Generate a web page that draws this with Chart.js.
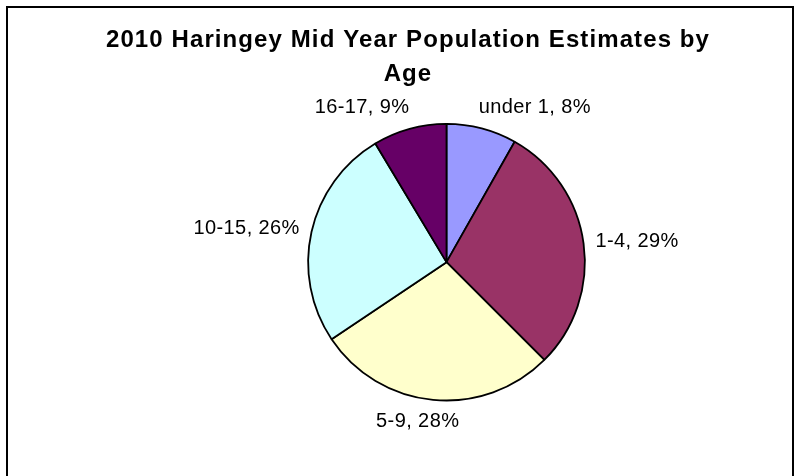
<!DOCTYPE html>
<html>
<head>
<meta charset="utf-8">
<script src="https://cdn.jsdelivr.net/npm/chart.js@4/dist/chart.umd.min.js"></script>
<style>
html,body{margin:0;padding:0;background:#fff;}
#wrap{width:800px;height:476px;position:relative;}
canvas{display:block;}
</style>
</head>
<body>
<div id="wrap"><canvas id="c" width="800" height="476"></canvas></div>
<script>
// ---- data ----
const titleLines = ["2010 Haringey Mid Year Population Estimates by", "Age"];
const categories = ["under 1", "1-4", "5-9", "10-15", "16-17"];
const shares = [8.2, 29.3, 28.1, 25.8, 8.6];
const sliceColors = ["#9999FF", "#993366", "#FFFFCC", "#CCFFFF", "#660066"];

const FONT = "'Liberation Sans', Arial, Helvetica, sans-serif";
Chart.defaults.font.family = FONT;
Chart.defaults.color = "#000";

const framePlugin = {
  id: 'frame',
  beforeDraw(chart) {
    const ctx = chart.ctx;
    ctx.save();
    ctx.fillStyle = '#fff';
    ctx.fillRect(0, 0, chart.width, chart.height);
    ctx.restore();
    ctx.letterSpacing = '1.1px';
  },
  beforeDatasetsDraw(chart) {
    chart.ctx.letterSpacing = '0px';
  },
  afterDraw(chart) {
    const ctx = chart.ctx;
    ctx.save();
    ctx.strokeStyle = '#000';
    ctx.lineWidth = 2;
    ctx.beginPath();
    ctx.moveTo(7, chart.height + 5);
    ctx.lineTo(7, 7);
    ctx.lineTo(793, 7);
    ctx.lineTo(793, chart.height + 5);
    ctx.stroke();
    ctx.restore();
  }
};

const titleShiftPlugin = {
  id: 'titleShift',
  afterLayout(chart) {
    if (chart.titleBlock) {
      chart.titleBlock.left = 16;
      chart.titleBlock.right = 800;
    }
  }
};

const sliceLabelPlugin = {
  id: 'sliceLabels',
  afterDatasetsDraw(chart) {
    const ctx = chart.ctx;
    const meta = chart.getDatasetMeta(0);
    const vals = chart.data.datasets[0].data;
    const total = vals.reduce((a, b) => a + b, 0);
    ctx.save();
    ctx.letterSpacing = '0.4px';
    ctx.font = "20px " + FONT;
    ctx.fillStyle = '#000';
    ctx.textAlign = 'center';
    ctx.textBaseline = 'middle';
    meta.data.forEach((arc, i) => {
      const p = arc.getProps(['x', 'y', 'startAngle', 'endAngle', 'outerRadius'], true);
      const mid = (p.startAngle + p.endAngle) / 2;
      const dx = Math.cos(mid), dy = Math.sin(mid);
      const R = p.outerRadius + 12;
      const ax = p.x + dx * R, ay = p.y + dy * R;
      const text = chart.data.labels[i] + ', ' + Math.round(vals[i] / total * 100) + '%';
      const w = ctx.measureText(text).width;
      const h = 20;
      const sx = Math.max(-1, Math.min(1, dx * 3.5));
      const sy = Math.max(-1, Math.min(1, dy * (Math.abs(dy) < 0.5 ? 0.2 : 1)));
      ctx.fillText(text, ax + sx * w / 2, ay + sy * h / 2);
    });
    ctx.restore();
  }
};

new Chart(document.getElementById('c'), {
  type: 'pie',
  data: {
    labels: categories,
    datasets: [{
      data: shares,
      backgroundColor: sliceColors,
      borderColor: '#000',
      borderWidth: 1.8
    }]
  },
  options: {
    responsive: false,
    animation: false,
    devicePixelRatio: 1,
    layout: { padding: { top: 10, left: 100, right: 7, bottom: 74.6 } },
    plugins: {
      legend: { display: false },
      tooltip: { enabled: false },
      title: {
        display: true,
        text: titleLines,
        color: '#000',
        font: { family: FONT, size: 24, weight: 'bold', lineHeight: 34 / 24 },
        padding: { top: 13, bottom: 31.9 }
      }
    }
  },
  plugins: [framePlugin, titleShiftPlugin, sliceLabelPlugin]
});
</script>
</body>
</html>
